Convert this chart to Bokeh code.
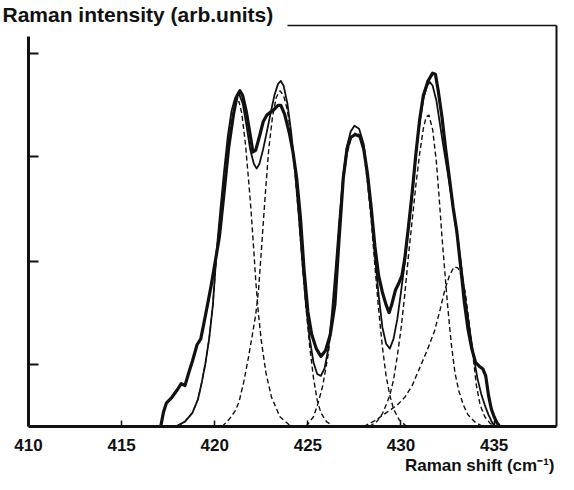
from bokeh.plotting import figure
from bokeh.models import Range1d, LinearAxis, FixedTicker, Title, CustomJSTickFormatter
from bokeh.embed import file_html
from bokeh.resources import INLINE

# ---- data (intensity in arbitrary units) ----
x_ticks = [410, 415, 420, 425, 430, 435]
y_ticks = [64, 170, 277, 383]

# measured spectrum (thick line)
spec_x = [417.1, 417.25, 417.4, 417.7, 418.0, 418.2, 418.4, 418.6, 418.8, 419.05, 419.25, 419.5, 419.8, 420.05, 420.25,
          420.5, 420.75, 421.0, 421.2, 421.35, 421.5, 421.7, 421.9, 422.05, 422.2, 422.4, 422.6, 422.8, 423.0, 423.2,
          423.4, 423.55, 423.75, 424.0, 424.2, 424.4, 424.6, 424.8, 425.0, 425.2, 425.45, 425.7, 425.95, 426.2, 426.45,
          426.65, 426.9, 427.1, 427.3, 427.55, 427.8, 428.0, 428.2, 428.4, 428.6, 428.8, 429.0, 429.2, 429.36, 429.5,
          429.7, 429.9, 430.05, 430.2, 430.4, 430.6, 430.8, 431.0, 431.2, 431.45, 431.7, 431.85, 432.0, 432.2, 432.4,
          432.6, 432.8, 433.0, 433.2, 433.4, 433.6, 433.8, 434.0, 434.2, 434.4, 434.55, 434.7, 434.85, 435.0, 435.15, 435.3]
spec_y = [0, 15, 24, 30, 38, 44, 42, 55, 67, 84, 90, 114, 144, 172, 195,
          240, 287, 320, 340, 345, 340, 323, 300, 282, 284, 298, 313, 320, 323, 326,
          330, 330, 321, 302, 282, 255, 215, 160, 118, 95, 80, 72, 78, 94, 125,
          185, 255, 285, 297, 300, 298, 285, 260, 225, 185, 155, 138, 125, 117, 125,
          140, 148, 155, 172, 205, 240, 280, 315, 340, 355, 363, 362, 345, 318, 285,
          255, 225, 200, 165, 128, 100, 80, 66, 62, 59, 52, 32, 18, 10, 4, 0]

# fitted sum (thin line)
fit_x = [417.9, 418.4, 418.8, 419.1, 419.3, 419.5, 419.7, 419.9, 420.1, 420.3, 420.5, 420.7, 420.9, 421.1, 421.3,
         421.5, 421.7, 421.9, 422.1, 422.25, 422.4, 422.6, 422.8, 423.0, 423.2, 423.4, 423.55, 423.7, 423.9, 424.1,
         424.3, 424.5, 424.7, 424.9, 425.1, 425.3, 425.5, 425.7, 425.9, 426.1, 426.3, 426.5, 426.7, 426.9, 427.1,
         427.3, 427.5, 427.75, 428.0, 428.2, 428.4, 428.6, 428.8, 429.0, 429.2, 429.4, 429.6, 429.8, 430.0, 430.2,
         430.4, 430.6, 430.8, 431.0, 431.2, 431.4, 431.55, 431.7, 431.9, 432.1, 432.3, 432.5, 432.7, 432.9, 433.1,
         433.3, 433.5, 433.7, 433.9, 434.1, 434.3, 434.5, 434.7, 434.9, 435.05]
fit_y = [0, 5, 14, 28, 45, 65, 90, 125, 180, 222, 262, 298, 324, 338, 342,
         332, 310, 285, 270, 265, 270, 285, 303, 322, 340, 352, 355, 350, 332, 303,
         265, 220, 170, 125, 90, 66, 54, 52, 60, 80, 118, 165, 215, 258, 288,
         303, 309, 306, 290, 255, 220, 175, 135, 102, 85, 80, 90, 110, 138, 168,
         205, 240, 280, 312, 337, 350, 354, 350, 335, 310, 285, 262, 237, 212, 185,
         155, 125, 98, 72, 50, 34, 22, 12, 4, 0]

# component bands (dashed)
c1_x = [418.0, 418.4, 418.8, 419.1, 419.3, 419.5, 419.7, 419.9, 420.1, 420.3, 420.5, 420.7, 420.9, 421.1, 421.3,
        421.45, 421.65, 421.8, 421.95, 422.1, 422.2, 422.35, 422.5, 422.75, 423.05, 423.5, 424.1]
c1_y = [0, 5, 14, 28, 45, 65, 90, 125, 178, 218, 255, 290, 316, 330, 334,
        322, 290, 257, 222, 180, 150, 115, 88, 55, 30, 10, 0]

c2_x = [420.4, 420.8, 421.1, 421.3, 421.55, 421.8, 422.0, 422.2, 422.35, 422.5, 422.7, 422.9, 423.1, 423.3, 423.5,
        423.7, 423.9, 424.1, 424.3, 424.5, 424.7, 424.9, 425.1, 425.3, 425.5, 425.7, 426.0, 426.4]
c2_y = [0, 8, 16, 25, 45, 70, 92, 115, 140, 180, 235, 285, 318, 338, 345,
        340, 325, 298, 262, 218, 168, 122, 82, 50, 27, 14, 5, 0]

c3_x = [424.9, 425.3, 425.55, 425.8, 426.1, 426.3, 426.5, 426.7, 426.9, 427.1, 427.3, 427.55, 427.75, 428.0, 428.2,
        428.4, 428.6, 428.8, 429.0, 429.2, 429.4, 429.6, 429.9, 430.3]
c3_y = [0, 10, 24, 42, 75, 112, 160, 210, 252, 280, 295, 302, 300, 283, 250,
        212, 165, 120, 82, 52, 32, 18, 7, 0]

c4_x = [428.3, 428.7, 429.0, 429.2, 429.4, 429.6, 429.8, 430.0, 430.2, 430.4, 430.6, 430.8, 431.0, 431.2, 431.35,
        431.5, 431.7, 431.9, 432.05, 432.2, 432.35, 432.5, 432.7, 432.9, 433.1, 433.35, 433.6, 434.0, 434.4]
c4_y = [0, 5, 13, 22, 32, 48, 72, 100, 135, 175, 212, 248, 280, 306, 318,
        320, 305, 272, 235, 195, 160, 125, 85, 55, 37, 22, 12, 4, 0]

c5_x = [428.0, 428.6, 429.2, 429.8, 430.2, 430.6, 431.0, 431.4, 431.8, 432.1, 432.35, 432.6, 432.85, 433.05, 433.25,
        433.45, 433.65, 433.85, 434.05, 434.25, 434.5, 434.8, 435.1]
c5_y = [0, 6, 14, 22, 30, 42, 60, 78, 98, 120, 140, 155, 164, 163, 155,
        138, 108, 75, 42, 22, 10, 3, 0]

components = [(c1_x, c1_y), (c2_x, c2_y), (c3_x, c3_y), (c4_x, c4_y), (c5_x, c5_y)]

title_text = "Raman intensity (arb.units)"
xlabel_text = "Raman shift (cm\u207b\u00b9)"

X0, X1 = 410, 438.35
Y0, Y1 = 0, 412
INK = "#111111"
FONT = "Liberation Sans"

p = figure(width=558, height=474, output_backend="svg", toolbar_location=None,
           title=title_text,
           x_range=Range1d(X0, X1), y_range=Range1d(Y0, Y1),
           x_axis_location=None, y_axis_location=None,
           min_border_left=28, min_border_right=2, min_border_top=0, min_border_bottom=0)
p.outline_line_color = None
p.background_fill_color = "white"
p.border_fill_color = "white"
p.grid.visible = False

# title at top left, sitting on the top frame line
p.title.align = "left"
p.title.offset = -26
p.title.standoff = 0
p.title.text_font = FONT
p.title.text_font_size = "21px"
p.title.text_font_style = "bold"
p.title.text_color = INK

# bottom axis with tick labels
xaxis = LinearAxis(ticker=FixedTicker(ticks=x_ticks))
xaxis.axis_line_width = 3
xaxis.axis_line_color = INK
xaxis.major_tick_in = 6
xaxis.major_tick_out = 0
xaxis.major_tick_line_width = 1.5
xaxis.major_tick_line_color = INK
xaxis.minor_tick_line_color = None
xaxis.major_label_text_font = FONT
xaxis.major_label_text_font_size = "17px"
xaxis.major_label_text_font_style = "bold"
xaxis.major_label_text_color = INK
xaxis.major_label_standoff = 12
p.add_layout(xaxis, "below")

# x-axis label, right aligned under the tick labels
p.add_layout(Title(text=xlabel_text, align="right", standoff=0, offset=2,
                   text_font=FONT, text_font_size="17px", text_font_style="bold",
                   text_color=INK), "below")

# left axis, unlabeled ticks, line stops short of the top
yaxis = LinearAxis(ticker=FixedTicker(ticks=y_ticks), bounds=(0, 401),
                   formatter=CustomJSTickFormatter(code="return ''"))
yaxis.axis_line_width = 3
yaxis.axis_line_color = INK
yaxis.major_tick_in = 10
yaxis.major_tick_out = 0
yaxis.major_tick_line_width = 2
yaxis.major_tick_line_color = INK
yaxis.minor_tick_line_color = None
yaxis.major_label_text_font_size = "0px"
yaxis.major_label_standoff = 0
p.add_layout(yaxis, "left")

# right frame line
raxis = LinearAxis(ticker=FixedTicker(ticks=[]))
raxis.axis_line_width = 2
raxis.axis_line_color = INK
raxis.major_tick_line_color = None
raxis.minor_tick_line_color = None
raxis.major_label_text_font_size = "0px"
raxis.major_label_standoff = 0
p.add_layout(raxis, "right")

# top frame line, starting after the title text
taxis = LinearAxis(ticker=FixedTicker(ticks=[]), bounds=(423.9, X1))
taxis.axis_line_width = 1.6
taxis.axis_line_color = INK
taxis.major_tick_line_color = None
taxis.minor_tick_line_color = None
taxis.major_label_text_font_size = "0px"
taxis.major_label_standoff = 0
p.add_layout(taxis, "above")

# component bands
for cx, cy in components:
    p.line(cx, cy, line_color=INK, line_width=1.4, line_dash="5 3")

# fitted sum and measured spectrum
p.line(fit_x, fit_y, line_color=INK, line_width=1.8, line_join="round")
p.line(spec_x, spec_y, line_color=INK, line_width=3.2, line_join="round")

open("out.html", "w").write(file_html(p, INLINE))
